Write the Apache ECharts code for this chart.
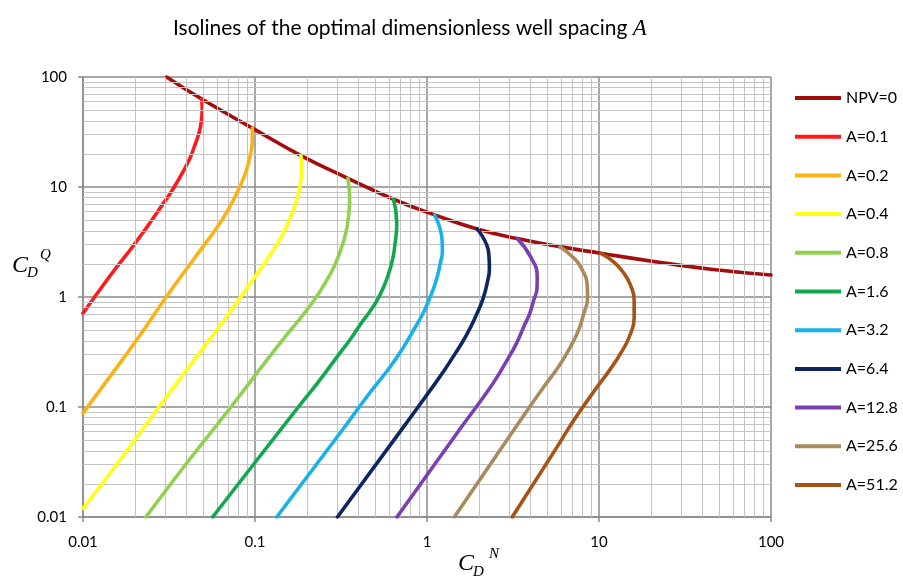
<!DOCTYPE html>
<html>
<head>
<meta charset="utf-8">
<script src="https://cdn.jsdelivr.net/npm/echarts@6/dist/echarts.min.js"></script>
<style>
  html, body { margin: 0; padding: 0; background: #ffffff; }
  #chart { width: 903px; height: 578px; }
</style>
</head>
<body>
<div id="chart"></div>
<script>
// Axis ticks (log scale, base 10)
const xTicks = [0.01, 0.1, 1, 10, 100];
const xTickLabels = ['0.01', '0.1', '1', '10', '100'];
const yTicks = [0.01, 0.1, 1, 10, 100];
const yTickLabels = ['0.01', '0.1', '1', '10', '100'];
const minorSteps = [2, 3, 4, 5, 6, 7, 8, 9];

// Legend / series names and colours
const seriesNames = ['NPV=0', 'A=0.1', 'A=0.2', 'A=0.4', 'A=0.8', 'A=1.6',
                     'A=3.2', 'A=6.4', 'A=12.8', 'A=25.6', 'A=51.2'];
const seriesColors = ['#a30d0d', '#ff1a1a', '#fbb216', '#ffff1a', '#92d050', '#12a84f',
                      '#18b2ea', '#0d2563', '#7a3fb0', '#a88b5c', '#a65316'];

// Zero-NPV boundary: [C_D^N, C_D^Q]
const npvZero = [[0.0306, 100], [0.049, 63], [0.0965, 34.3], [0.185, 19.3], [0.347, 12.0],
                 [0.639, 7.74], [1.107, 5.58], [1.955, 4.16], [3.344, 3.40], [5.92, 2.87],
                 [10.2, 2.50], [22.8, 2.06], [44.7, 1.79], [100, 1.586]];

// Isolines of the optimal dimensionless spacing A: [C_D^N, C_D^Q]
const a0_1 = [[0.049, 63], [0.0493, 50.4], [0.0482, 35.5], [0.04656, 28.79], [0.0444, 23.35],
              [0.04227, 18.93], [0.0396, 15.36], [0.0338, 9.89], [0.0303, 7.64], [0.0201, 3.08],
              [0.0142, 1.52], [0.01, 0.711]];
const a0_2 = [[0.0965, 34.3], [0.0965, 26.9], [0.0935, 18.9], [0.0886, 13.82], [0.0818, 10.1],
              [0.0723, 6.88], [0.0625, 4.69], [0.0437, 2.17], [0.0306, 1.01], [0.0205, 0.406],
              [0.0143, 0.188], [0.01, 0.088]];
const a0_4 = [[0.185, 19.3], [0.187, 14.3], [0.1829, 10.46], [0.175, 7.64], [0.1616, 5.383],
              [0.146, 3.80], [0.1317, 2.871], [0.117, 2.17], [0.100, 1.53], [0.0684, 0.662],
              [0.0457, 0.286], [0.0306, 0.124], [0.01637, 0.0328], [0.01, 0.0119]];
const a0_8 = [[0.347, 12.0], [0.355, 7.64], [0.3495, 5.383], [0.337, 3.80], [0.315, 2.679],
              [0.288, 1.887], [0.255, 1.333], [0.221, 0.939], [0.1834, 0.640], [0.1495, 0.435],
              [0.0987, 0.188], [0.0725, 0.1], [0.0413, 0.0328], [0.0232, 0.01]];
const a1_6 = [[0.639, 7.74], [0.667, 4.69], [0.649, 2.87], [0.630, 2.172], [0.599, 1.643],
              [0.5605, 1.241], [0.5135, 0.939], [0.4644, 0.735], [0.414, 0.576], [0.356, 0.406],
              [0.300, 0.286], [0.2337, 0.1694], [0.1787, 0.1], [0.1024, 0.0328], [0.0567, 0.01]];
const a3_2 = [[1.107, 5.58], [1.223, 3.30], [1.228, 2.585], [1.195, 2.03], [1.133, 1.428],
              [1.045, 1.006], [0.948, 0.711], [0.836, 0.501], [0.723, 0.341], [0.611, 0.232],
              [0.447, 0.124], [0.327, 0.0638], [0.1338, 0.01]];
const a6_4 = [[1.955, 4.16], [2.285, 2.50], [2.306, 1.825], [2.236, 1.333], [2.120, 0.973],
              [1.955, 0.711], [1.717, 0.467], [1.461, 0.307], [1.244, 0.209], [1.045, 0.1423],
              [0.731, 0.066], [0.3015, 0.01]];
const a12_8 = [[3.344, 3.40], [3.997, 2.33], [4.372, 1.53], [4.361, 1.20], [4.177, 0.939],
               [3.959, 0.711], [3.653, 0.537], [3.312, 0.379], [2.923, 0.267], [2.527, 0.182],
               [2.136, 0.124], [1.563, 0.0638], [0.669, 0.01]];
const a25_6 = [[5.92, 2.87], [6.925, 2.362], [7.81, 1.887], [8.55, 1.241], [8.584, 0.979],
               [8.17, 0.711], [7.607, 0.5006], [6.83, 0.353], [5.817, 0.232], [4.78, 0.1526],
               [3.494, 0.0759], [1.442, 0.01]];
const a51_2 = [[10.2, 2.50], [12.16, 2.083], [13.96, 1.643], [15.18, 1.30], [16.01, 0.939],
               [16.01, 0.644], [14.97, 0.4325], [13.36, 0.307], [11.53, 0.2165], [9.77, 0.1526],
               [7.14, 0.0759], [5.71, 0.0434], [3.13, 0.01]];

const curves = [npvZero, a0_1, a0_2, a0_4, a0_8, a1_6, a3_2, a6_4, a12_8, a25_6, a51_2];

// Minor grid values between the decades (2..9 x 10^k)
const minorX = [];
const minorY = [];
for (let k = 0; k < xTicks.length - 1; k++) {
  minorSteps.forEach(s => minorX.push(+(xTicks[k] * s).toPrecision(3)));
}
for (let k = 0; k < yTicks.length - 1; k++) {
  minorSteps.forEach(s => minorY.push(+(yTicks[k] * s).toPrecision(3)));
}

const labelFont = 'Lato, "Open Sans", sans-serif';
const mathFont = '"Liberation Serif", "DejaVu Serif", serif';

function tickLabel(list) {
  return v => {
    const i = Math.round(Math.log10(v)) + 2;
    return list[i] !== undefined ? list[i] : '';
  };
}

const majorLineStyle = { color: '#8a8a8a', width: 1.5 };
const minorLineStyle = { color: '#c4c4c4', width: 1, type: 'solid' };

const series = [{
  name: 'minor-grid',
  type: 'line',
  data: [[1, 1]],
  symbol: 'none',
  lineStyle: { opacity: 0 },
  silent: true,
  z: 1,
  markLine: {
    silent: true,
    symbol: ['none', 'none'],
    label: { show: false },
    animation: false,
    lineStyle: minorLineStyle,
    emphasis: { disabled: true },
    data: minorX.map(v => ({ xAxis: v })).concat(minorY.map(v => ({ yAxis: v })))
  }
}];

curves.forEach((pts, i) => {
  series.push({
    name: seriesNames[i],
    type: 'line',
    data: pts,
    symbol: 'none',
    smooth: 0.5,
    clip: true,
    z: 3 + i,
    lineStyle: { color: seriesColors[i], width: 3.6, cap: 'round' },
    itemStyle: { color: seriesColors[i] },
    emphasis: { disabled: true }
  });
});

const chart = echarts.init(document.getElementById('chart'), null, { renderer: 'canvas' });
chart.setOption({
  animation: false,
  backgroundColor: '#ffffff',
  title: {
    left: 168,
    top: 12,
    text: '{n|Isolines of the optimal dimensionless well spacing }{a|A}',
    textStyle: {
      fontWeight: 'normal',
      rich: {
        n: { fontFamily: labelFont, fontSize: 21, fontWeight: 'normal', color: '#000000' },
        a: { fontFamily: mathFont, fontStyle: 'italic', fontWeight: 'normal', fontSize: 23, color: '#000000' }
      }
    }
  },
  grid: { left: 83, top: 77, width: 688, height: 440, containLabel: false },
  legend: {
    data: seriesNames,
    orient: 'vertical',
    left: 795,
    top: 90,
    padding: 0,
    icon: 'rect',
    itemWidth: 46,
    itemHeight: 4,
    itemGap: 22.7,
    selectedMode: false,
    textStyle: { fontFamily: labelFont, fontSize: 16, color: '#000000', lineHeight: 16 }
  },
  xAxis: {
    type: 'log',
    logBase: 10,
    min: 0.01,
    max: 100,
    axisLine: { show: true, lineStyle: majorLineStyle },
    axisTick: { show: true, length: 5, lineStyle: majorLineStyle },
    axisLabel: { formatter: tickLabel(xTickLabels), fontFamily: labelFont, fontSize: 15,
                 color: '#000000', margin: 18 },
    splitLine: { show: true, lineStyle: majorLineStyle },
    minorTick: { show: false },
    minorSplitLine: { show: false }
  },
  yAxis: {
    type: 'log',
    logBase: 10,
    min: 0.01,
    max: 100,
    axisLine: { show: true, lineStyle: majorLineStyle },
    axisTick: { show: true, length: 5, lineStyle: majorLineStyle },
    axisLabel: { formatter: tickLabel(yTickLabels), fontFamily: labelFont, fontSize: 15,
                 color: '#000000', margin: 16 },
    splitLine: { show: true, lineStyle: majorLineStyle },
    minorTick: { show: false },
    minorSplitLine: { show: false }
  },
  graphic: [
    // vertical axis name C_D^Q
    { type: 'text', left: 12, top: 254, silent: true,
      style: { text: 'C', font: 'italic 24px ' + mathFont, fill: '#000' } },
    { type: 'text', left: 27, top: 266, silent: true,
      style: { text: 'D', font: 'italic 15px ' + mathFont, fill: '#000' } },
    { type: 'text', left: 40, top: 248, silent: true,
      style: { text: 'Q', font: 'italic 15px ' + mathFont, fill: '#000' } },
    // horizontal axis name C_D^N
    { type: 'text', left: 458, top: 552, silent: true,
      style: { text: 'C', font: 'italic 24px ' + mathFont, fill: '#000' } },
    { type: 'text', left: 473, top: 565, silent: true,
      style: { text: 'D', font: 'italic 15px ' + mathFont, fill: '#000' } },
    { type: 'text', left: 489, top: 547, silent: true,
      style: { text: 'N', font: 'italic 15px ' + mathFont, fill: '#000' } }
  ],
  series: series
});
</script>
</body>
</html>
